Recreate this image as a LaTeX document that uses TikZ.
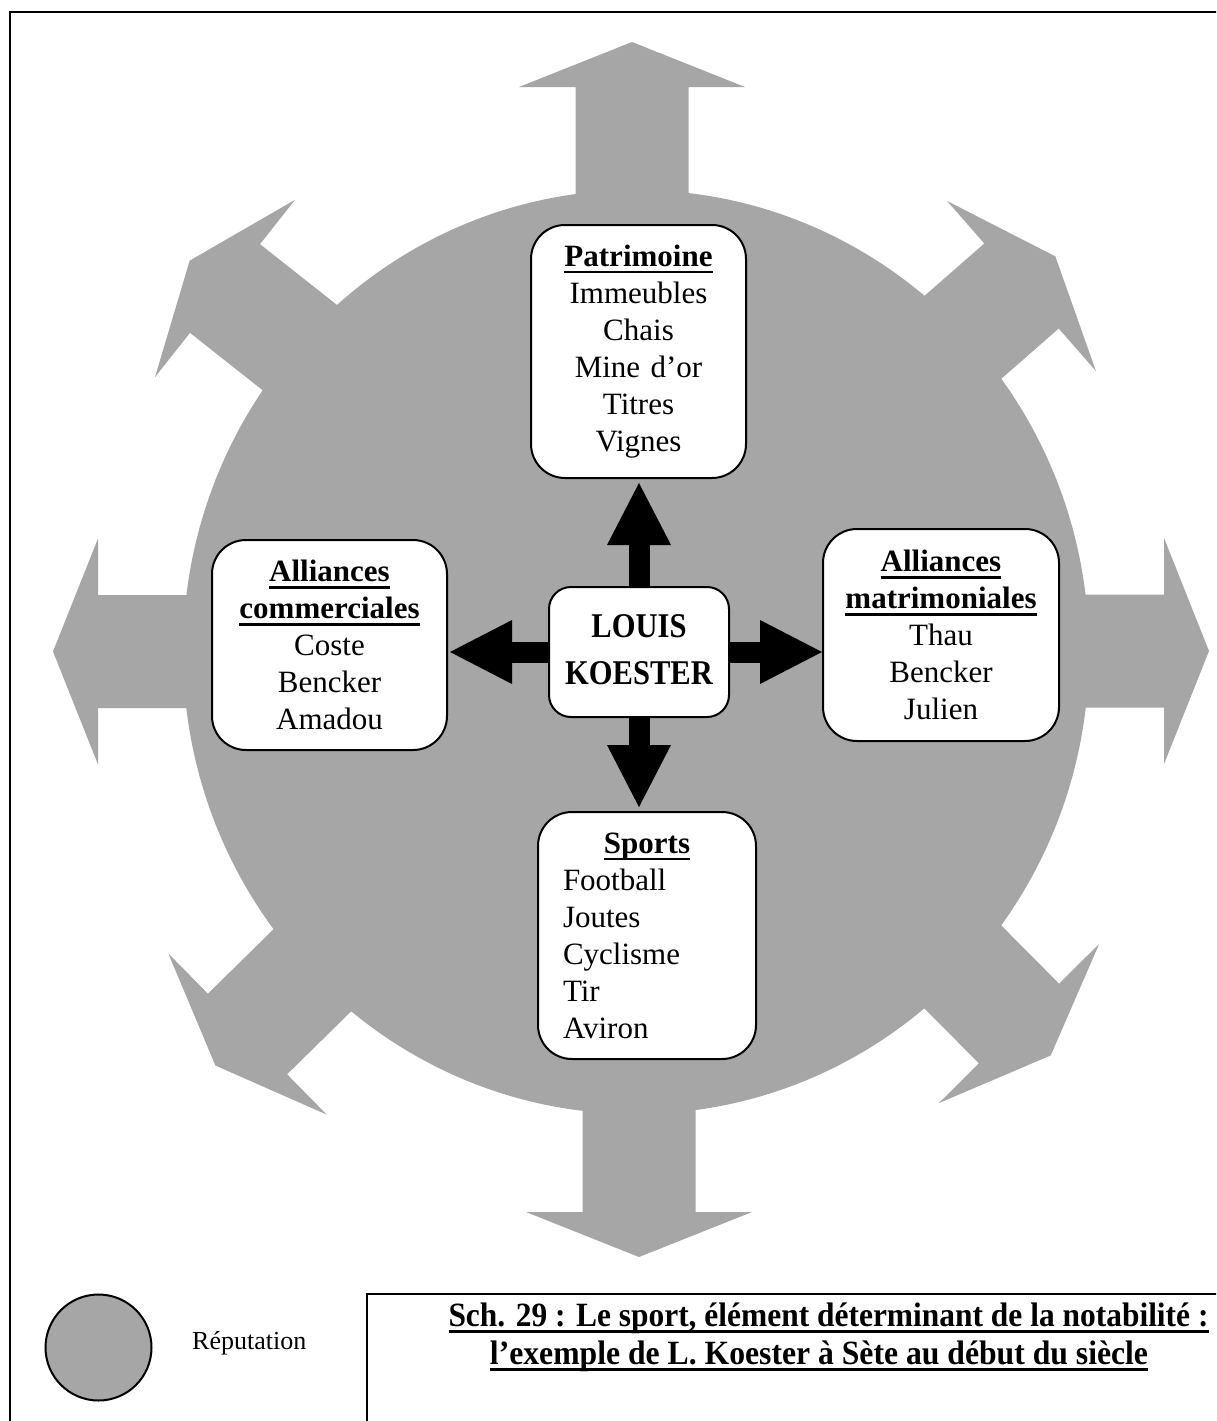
\documentclass[tikz,border=0pt]{standalone}
\usepackage{fontspec}
\setmainfont{Liberation Serif}
\usepackage{graphicx}
\usetikzlibrary{arrows.meta}
\definecolor{repgray}{HTML}{A6A6A6}
\newcommand{\ulbf}[1]{\leavevmode\setbox0\hbox{\bfseries #1}\rlap{\rule[-7pt]{\wd0}{2.6pt}}\box0}
\newcommand{\grayarrow}[3]{\fill[repgray, shift={(#1,#2)}, rotate=#3] (0,-56.5) -- (0,-113) -- (45,0) -- (0,113) -- (0,56.5) -- (-350,56.5) -- (-350,-56.5) -- cycle;}
\begin{document}
\begin{tikzpicture}[x=1pt,y=-1pt,
  box/.style={draw=black, line width=2pt, fill=white, rounded corners=34pt, inner sep=0pt, align=center, font=\fontsize{31}{37}\selectfont},
  blackarrow/.style={line width=21pt, -{Triangle[length=62pt,width=64pt,line width=0pt]}},
  frameline/.style={line width=2.5pt, draw=black}
]
\useasboundingbox (0,0) rectangle (1216,1421);
\fill[white] (0,0) rectangle (1216,1421);
\begin{scope}
\clip (0,0) rectangle (1216,1421);
\draw[frameline] (10,12) rectangle (1240,1450);
\draw[frameline] (367,1294) rectangle (1240,1450);
\end{scope}
% reputation shape
\fill[repgray] (636,652) ellipse [x radius=453, y radius=462];
\grayarrow{632}{87}{90}
\grayarrow{639}{1212}{270}
\grayarrow{98}{651.5}{180}
\grayarrow{1164}{651}{0}
\grayarrow{225}{288.5}{141.7}
\grayarrow{1021.5}{286}{41.2}
\grayarrow{247.5}{1034}{224.5}
\grayarrow{1019}{1023.5}{314.8}
% boxes
\node[box, minimum width=215pt, minimum height=253pt, text width=205pt] (patr) at (638.5,351.5)
  {\ulbf{Patrimoine}\\Immeubles\\Chais\\Mine d’or\\Titres\\Vignes};
\node[box, minimum width=235pt, minimum height=210pt, text width=225pt] (comm) at (329.5,645)
  {\ulbf{Alliances}\\\ulbf{commerciales}\\Coste\\Bencker\\Amadou};
\node[box, minimum width=236pt, minimum height=212pt, text width=226pt] (matr) at (941,635)
  {\ulbf{Alliances}\\\ulbf{matrimoniales}\\Thau\\Bencker\\Julien};
\node[box, minimum width=218pt, minimum height=247pt, text width=168pt, align=left] (sports) at (647,935.5)
  {\makebox[\hsize][c]{\ulbf{Sports}}\\Football\\Joutes\\Cyclisme\\Tir\\Aviron};
\node[box, rounded corners=22pt, minimum width=180pt, minimum height=130pt, text width=170pt,
  font=\fontsize{34.7}{47}\selectfont\bfseries] (louis) at (639,652)
  {\raisebox{4pt}{\scalebox{0.88}[1]{LOUIS}}\\\raisebox{4pt}{\scalebox{0.88}[1]{KOESTER}}};
% black arrows
\draw[blackarrow, shorten >=4pt] (louis.north) -- (louis.north |- patr.south);
\draw[blackarrow, shorten >=4pt] (louis.south) -- (louis.south |- sports.north);
\draw[blackarrow, shorten >=2pt] (louis.west) -- (louis.west -| comm.east);
\draw[blackarrow] (louis.east) -- (louis.east -| matr.west);
% legend
\node[circle, draw=black, line width=2pt, fill=repgray, minimum size=106pt, inner sep=0pt] (leg) at (98.5,1347.5) {};
\node[font=\fontsize{26}{30}\selectfont, inner sep=0pt, anchor=west] (legtxt) at (192,1343) {Réputation};
% title
\node[font=\fontsize{34}{40}\selectfont, inner sep=0pt, anchor=base] (t1) at (828.5,1326)
  {\resizebox{760pt}{\height}{\ulbf{Sch. 29 : Le sport, élément déterminant de la notabilité :}}};
\node[font=\fontsize{34}{40}\selectfont, inner sep=0pt, anchor=base] (t2) at (819,1364)
  {\resizebox{658pt}{\height}{\ulbf{l’exemple de L. Koester à Sète au début du siècle}}};
\end{tikzpicture}
\end{document}
